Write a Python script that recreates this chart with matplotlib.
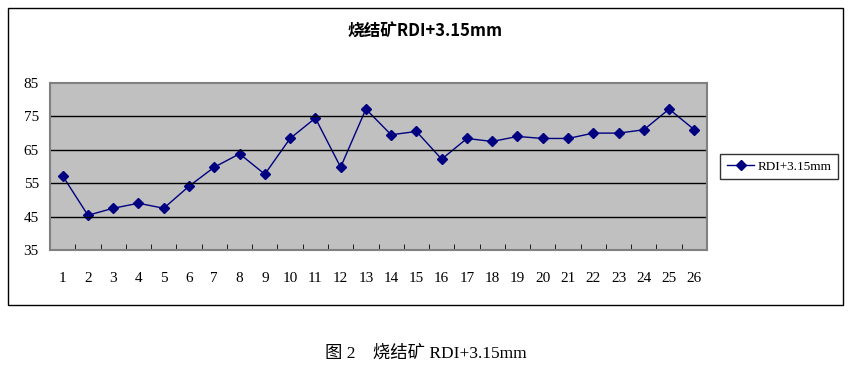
import numpy as np
import matplotlib.pyplot as plt
from matplotlib.patches import Rectangle

plt.rcParams['font.family'] = ['Liberation Serif', 'Noto Sans CJK SC']

samples = list(range(1, 27))
rdi = [57.2, 45.4, 47.5, 49.0, 47.5, 54.1, 59.8, 63.8, 57.7, 68.4,
       74.5, 59.8, 77.2, 69.5, 70.5, 62.2, 68.4, 67.5, 69.0, 68.4,
       68.4, 70.0, 70.0, 71.0, 77.2, 71.0]
yticks = [35, 45, 55, 65, 75, 85]

fig = plt.figure(figsize=(8.51, 3.69), dpi=100)

# outer chart frame
fig.patches.append(Rectangle((0.0094, 0.1734), 0.9812, 0.8046, transform=fig.transFigure,
                             fill=False, edgecolor='black', linewidth=1))

ax = fig.add_axes([0.0588, 0.3225, 0.772, 0.4525])
ax.set_facecolor('#c0c0c0')
ax.plot(samples, rdi, color='#000080', linewidth=1, marker='D', markersize=5,
        markerfacecolor='#000080', markeredgecolor='#000080', label='RDI+3.15mm')

ax.set_xlim(0.5, 26.5)
ax.set_ylim(35, 85)
ax.set_yticks(yticks)
ax.set_xticks(samples)
ax.set_xticks(np.arange(0.5, 27, 1), minor=True)
ax.tick_params(axis='x', which='major', length=0, pad=16, labelsize=11)
ax.tick_params(axis='x', which='minor', direction='in', length=4, color='black')
ax.tick_params(axis='y', length=0, pad=8, labelsize=11)
for y in yticks[1:-1]:
    ax.axhline(y, color='black', linewidth=1)
for side in ['top', 'right', 'left', 'bottom']:
    ax.spines[side].set_color('#808080')
    ax.spines[side].set_linewidth(1.5)

leg = ax.legend(loc='center left', bbox_to_anchor=(1.02, 0.5), frameon=True,
                fancybox=False, edgecolor='black', fontsize=9.5, handlelength=2.1,
                borderpad=0.5, handletextpad=0.25, borderaxespad=0)
leg.get_frame().set_linewidth(1)

fig.text(0.50, 0.913, '烧结矿RDI+3.15mm', ha='center', va='center', fontsize=12,
         fontweight='bold', family=['Noto Sans CJK SC', 'Liberation Serif'])
fig.text(0.50, 0.042, '图 2　烧结矿 RDI+3.15mm', ha='center', va='center', fontsize=12.5,
         family=['Liberation Serif', 'Noto Sans CJK SC'])

fig.savefig('out.png', dpi=100)
